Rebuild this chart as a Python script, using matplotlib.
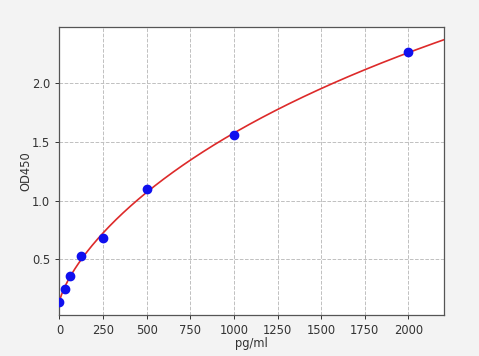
import numpy as np
import matplotlib
matplotlib.use("Agg")
import matplotlib.pyplot as plt

conc = [0, 31.25, 62.5, 125, 250, 500, 1000, 2000]
od = [0.133, 0.25, 0.36, 0.531, 0.679, 1.102, 1.562, 2.264]
xticks = [0, 250, 500, 750, 1000, 1250, 1500, 1750, 2000]
yticks = [0.5, 1.0, 1.5, 2.0]

# four-parameter logistic fit: grid over (b, c), linear least squares for (a, d)
x = np.array(conc, float)
y = np.array(od, float)
best = None
for b in np.linspace(0.4, 1.6, 121):
    for c in np.logspace(2.5, 5.5, 301):
        g = 1.0 / (1.0 + (x / c) ** b)
        A = np.vstack([g, 1 - g]).T
        coef, *_ = np.linalg.lstsq(A, y, rcond=None)
        r = np.sum((A @ coef - y) ** 2)
        if best is None or r < best[0]:
            best = (r, b, c, coef)
_, bb, cc, (aa, dd) = best
xf = np.linspace(0, 2204, 400)
gf = 1.0 / (1.0 + (xf / cc) ** bb)
yf = aa * gf + dd * (1 - gf)

fig = plt.figure(figsize=(4.79, 3.56), dpi=100, facecolor="#f3f3f3")
ax = fig.add_axes([0.124, 0.116, 0.803, 0.809])
ax.set_facecolor("white")
ax.plot(xf, yf, color="#dd2a2a", lw=1.2, zorder=3)
ax.plot(conc, od, "o", color="#1010ee", ms=6, zorder=4)
ax.set_xlim(0, 2204)
ax.set_ylim(0.028, 2.482)
ax.set_xticks(xticks)
ax.set_yticks(yticks)
ax.grid(True, ls="--", color="#c0c0c0", lw=0.7)
ax.tick_params(labelsize=8.3, length=3, width=0.7, colors="#333333")
for s in ax.spines.values():
    s.set_color("#555555")
    s.set_linewidth(0.9)
ax.set_xlabel("pg/ml", fontsize=8.3, color="#333333", labelpad=0)
ax.set_ylabel("OD450", fontsize=8.3, color="#333333", labelpad=0)
fig.savefig("out.png", dpi=100, facecolor=fig.get_facecolor())
